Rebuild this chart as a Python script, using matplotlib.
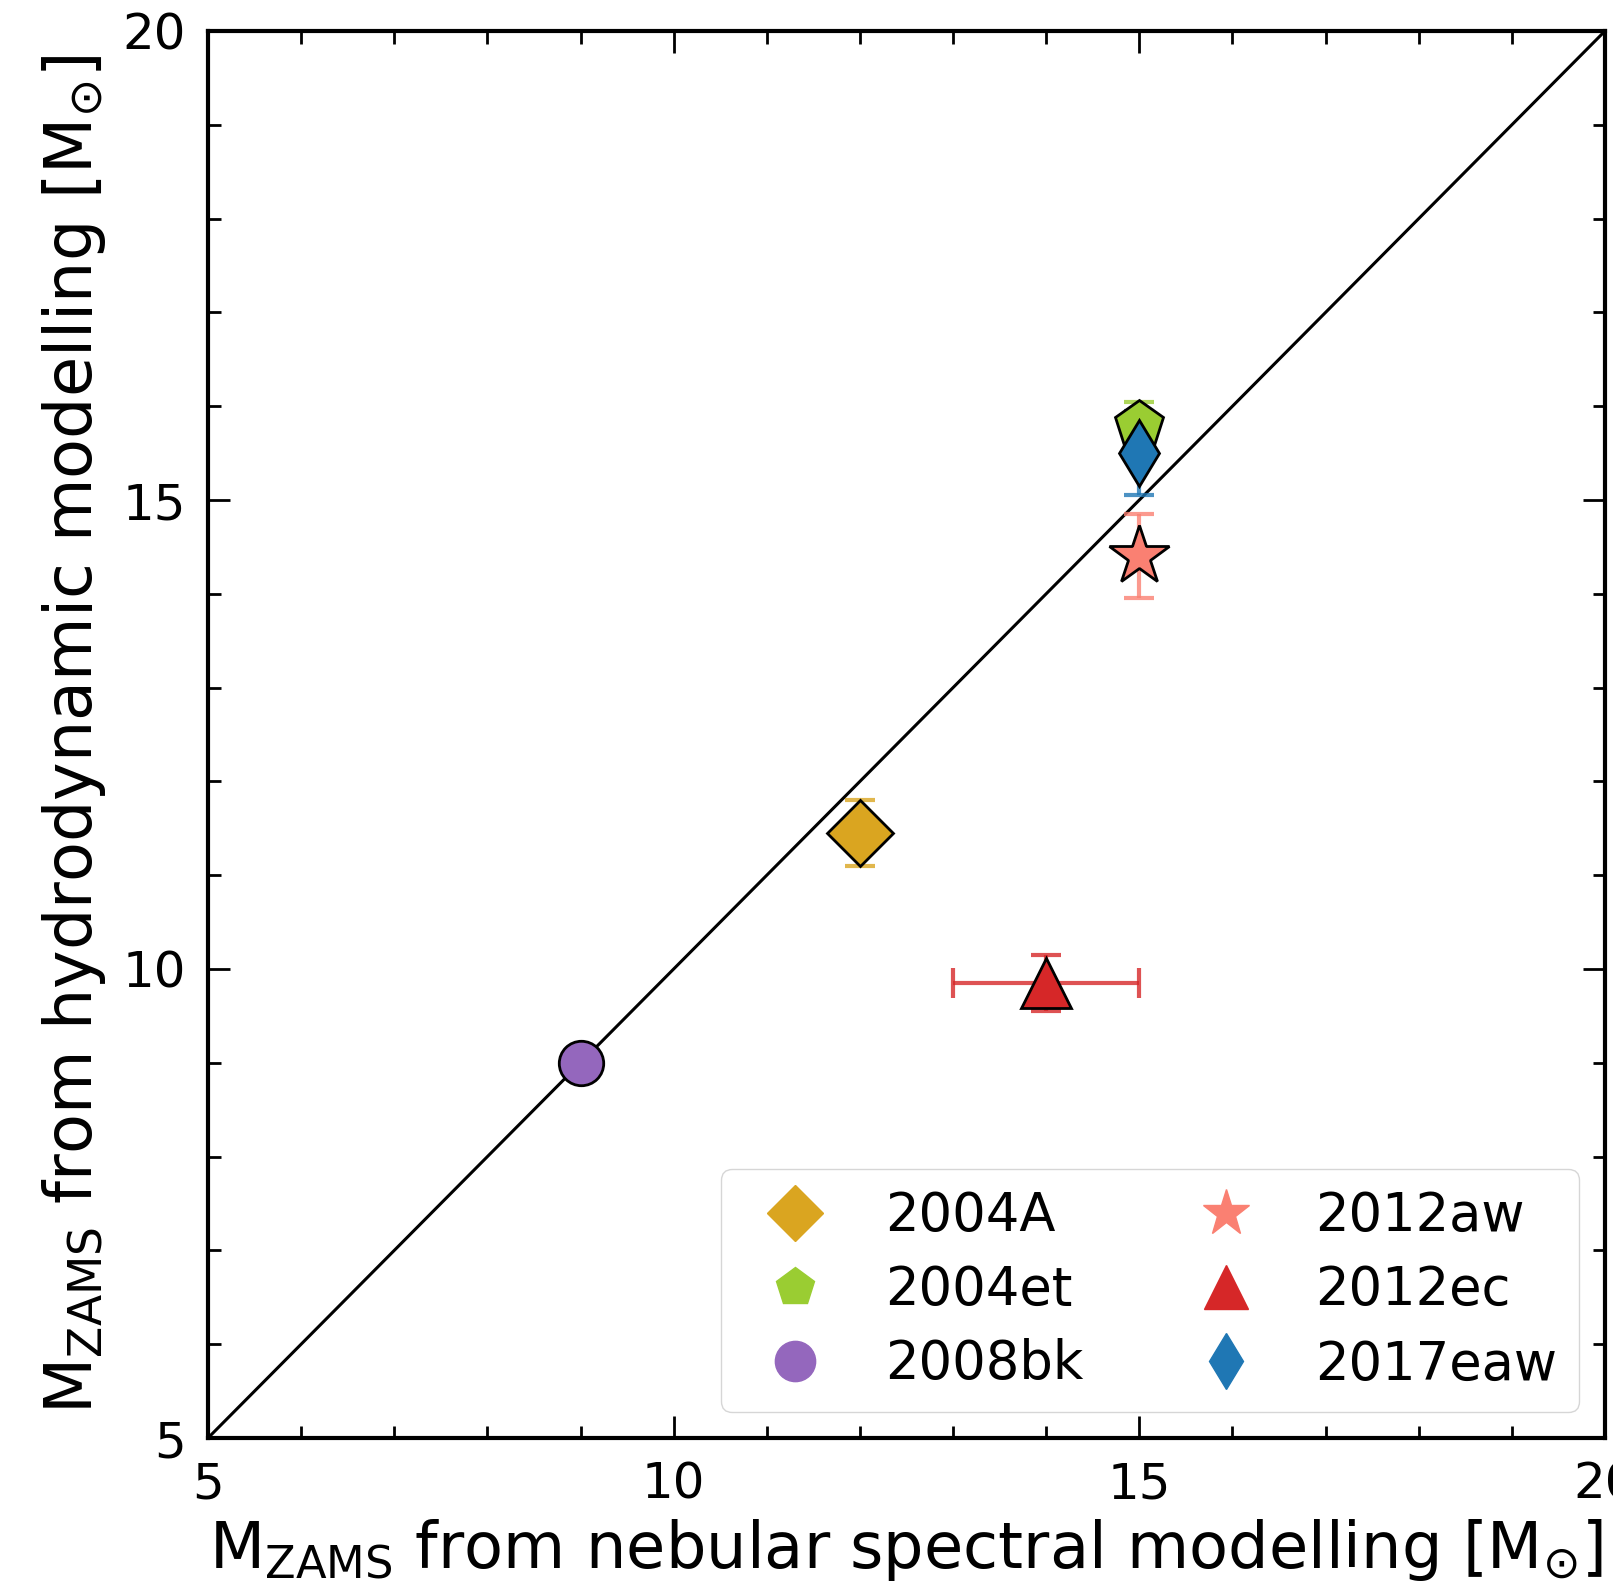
import matplotlib
matplotlib.use('Agg')
import matplotlib.pyplot as plt
from matplotlib.lines import Line2D

# supernova progenitor masses
names = ['2004A', '2004et', '2008bk', '2012aw', '2012ec', '2017eaw']
m_neb = [12, 15, 9, 15, 14, 15]
m_hydro = [11.45, 15.8, 9.0, 14.4, 9.85, 15.5]
xerr_lo = [0, 0, 0, 0, 1.0, 0]
xerr_hi = [0, 0, 0, 0, 1.0, 0]
yerr_lo = [0.35, 0.25, 0, 0.45, 0.3, 0.45]
yerr_hi = [0.35, 0.25, 0, 0.45, 0.3, 0.45]

markers = ['D', 'p', 'o', '*', '^', 'd']
colors = ['goldenrod', 'yellowgreen', 'tab:purple', 'salmon', 'tab:red', 'tab:blue']
msizes = [34, 36, 32, 45, 36, 34]
leg_sizes = [29, 29, 29, 35, 31, 29]

fig = plt.figure(figsize=(16.13, 15.93), dpi=100)
ax = fig.add_axes([208/1613, 1 - 1438/1593, (1605-208)/1613, (1438-31)/1593])

ax.plot([5, 20], [5, 20], color='k', lw=2.2, zorder=1)

for i in range(len(names)):
	ax.errorbar(m_neb[i], m_hydro[i],
		xerr=[[xerr_lo[i]], [xerr_hi[i]]], yerr=[[yerr_lo[i]], [yerr_hi[i]]],
		fmt='none', ecolor=colors[i], elinewidth=3, capsize=11, capthick=3,
		alpha=0.8, zorder=2)
for i in range(len(names)):
	ax.plot(m_neb[i], m_hydro[i], marker=markers[i], ms=msizes[i], color=colors[i],
		mec='k', mew=2, ls='none', zorder=3)

handles = [Line2D([], [], marker=markers[i], color=colors[i], ms=leg_sizes[i], ls='none')
	for i in range(len(names))]
ax.legend(handles, names, ncol=2, loc='lower right', fontsize=38,
	handletextpad=0.7, columnspacing=1.7, labelspacing=0.42)

ax.set_xlim(5, 20)
ax.set_ylim(5, 20)
ax.set_xticks([5, 10, 15, 20])
ax.set_yticks([5, 10, 15, 20])
ax.minorticks_on()
ax.tick_params(which='both', direction='in', top=True, right=True, width=2, labelsize=36, pad=16)
ax.tick_params(which='major', length=16)
ax.tick_params(which='minor', length=9)
for s in ax.spines.values():
	s.set_linewidth(3)

ax.set_xlabel(r'M$_{\rm ZAMS}$ from nebular spectral modelling [M$_{\odot}$]', fontsize=46, labelpad=6)
ax.set_ylabel(r'M$_{\rm ZAMS}$ from hydrodynamic modelling [M$_{\odot}$]', fontsize=47, labelpad=10)

fig.savefig('out.png', dpi=100)
